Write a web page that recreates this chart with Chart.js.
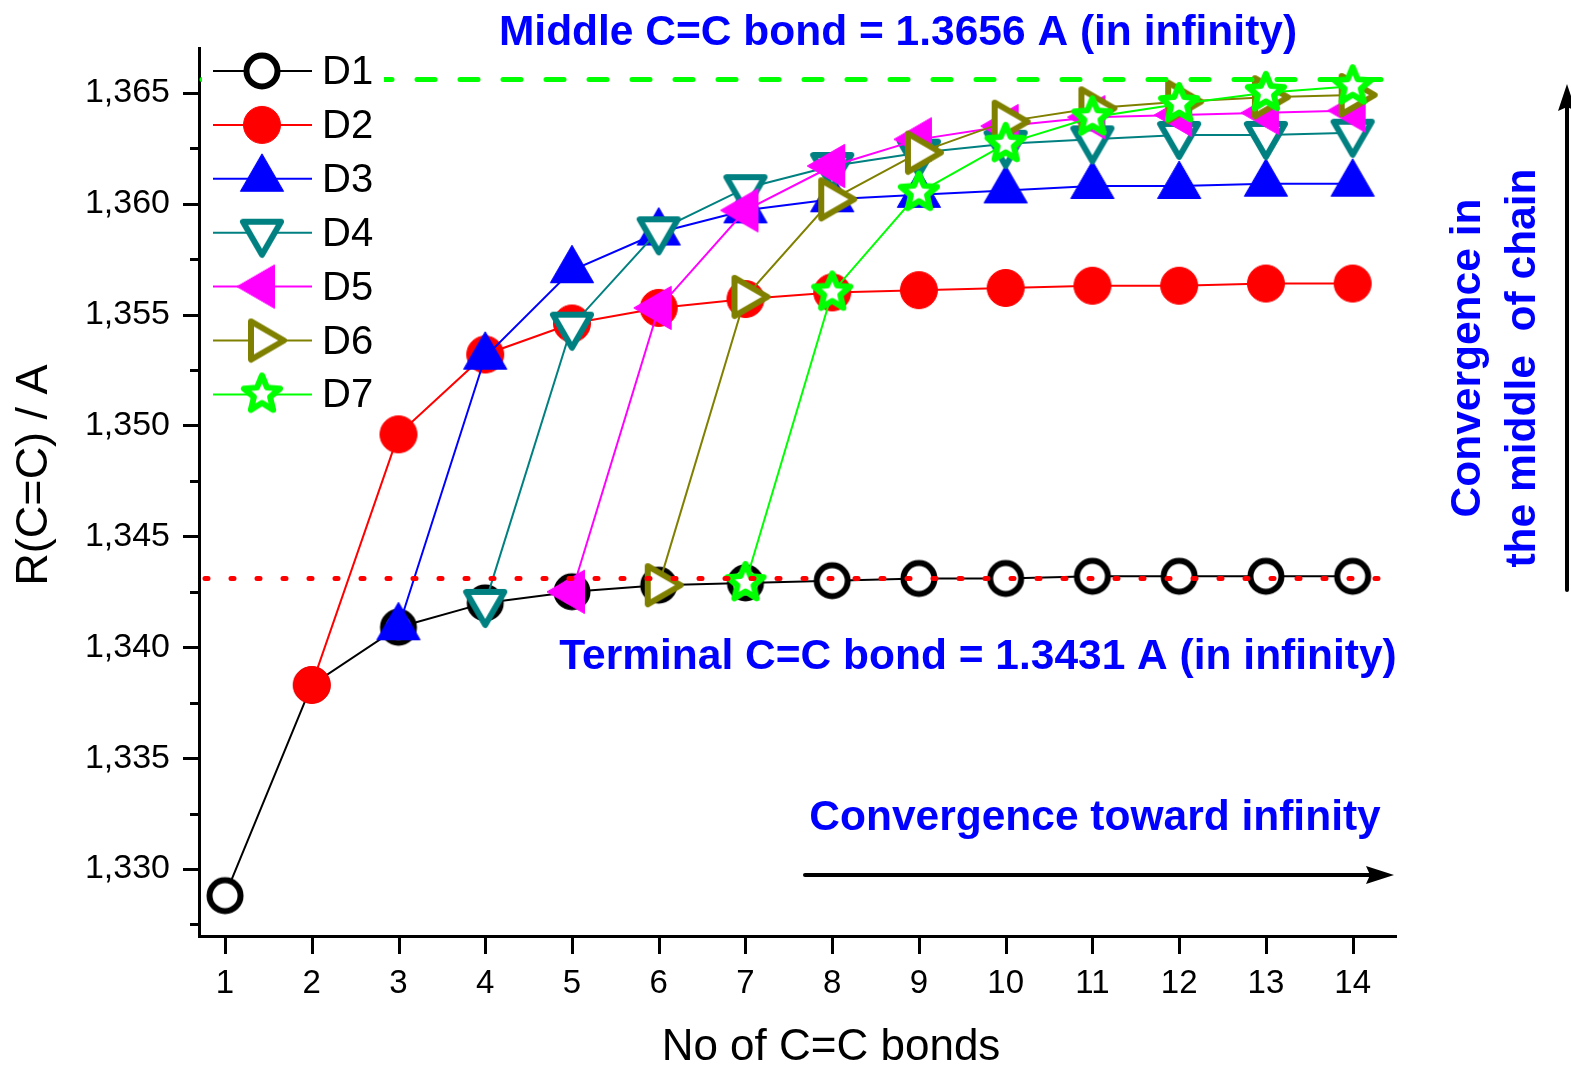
<!DOCTYPE html>
<html>
<head>
<meta charset="utf-8">
<title>C=C bond length convergence</title>
<script src="https://cdn.jsdelivr.net/npm/chart.js@4/dist/chart.umd.min.js"></script>
<style>
    html, body { margin: 0; padding: 0; background: #fff; }
    #bondChart { display: block; }
</style>
</head>
<body>
<canvas id="bondChart" width="1571" height="1067"></canvas>
<script>
// Number of C=C bonds in the chain (x axis)
const bondCount = [1, 2, 3, 4, 5, 6, 7, 8, 9, 10, 11, 12, 13, 14];

// R(C=C) in Angstrom for each position D1..D7 (null = bond not present yet)
const d1 = [1.3288, 1.3383, 1.3409, 1.3420, 1.3425, 1.3428, 1.3429, 1.3430, 1.3431, 1.3431, 1.3432, 1.3432, 1.3432, 1.3432];
const d2 = [null, 1.3383, 1.3496, 1.3532, 1.3546, 1.3553, 1.3557, 1.3560, 1.3561, 1.3562, 1.3563, 1.3563, 1.3564, 1.3564];
const d3 = [null, null, 1.3409, 1.3531, 1.3570, 1.3587, 1.3597, 1.3602, 1.3604, 1.3606, 1.3608, 1.3608, 1.3609, 1.3609];
const d4 = [null, null, null, 1.3420, 1.3545, 1.3588, 1.3607, 1.3617, 1.3623, 1.3627, 1.3629, 1.3631, 1.3631, 1.3632];
const d5 = [null, null, null, null, 1.3425, 1.3553, 1.3597, 1.3617, 1.3629, 1.3635, 1.3639, 1.3640, 1.3641, 1.3642];
const d6 = [null, null, null, null, null, 1.3428, 1.3558, 1.3602, 1.3623, 1.3637, 1.3643, 1.3646, 1.3648, 1.3649];
const d7 = [null, null, null, null, null, null, 1.3429, 1.3560, 1.3605, 1.3627, 1.3639, 1.3645, 1.3650, 1.3653];

const seriesNames = ["D1", "D2", "D3", "D4", "D5", "D6", "D7"];

// Limits for an infinite chain
const middleLimit = 1.3656;
const terminalLimit = 1.3431;

// Labelled y ticks (minor ticks sit halfway between them)
const yMajorTicks = [1.330, 1.335, 1.340, 1.345, 1.350, 1.355, 1.360, 1.365];

document.addEventListener("DOMContentLoaded", function () {
    const FONT = "'Liberation Sans', Arial, Helvetica, sans-serif";
    Chart.defaults.font.family = FONT;
    Chart.defaults.color = "#000";

    // Build a marker as a small canvas so the legend can reuse the exact same symbol
    function makeMarker(shape, color, filled) {
        const c = document.createElement("canvas");
        c.width = 60;
        c.height = 60;
        const g = c.getContext("2d");
        g.translate(30, 30);
        g.lineJoin = "round";
        g.beginPath();
        if (shape === "circle") {
            g.arc(0, 0, filled ? 18.5 : 15.5, 0, Math.PI * 2);
        } else if (shape === "star") {
            for (let k = 0; k < 10; k++) {
                const r = k % 2 === 0 ? 19 : 8.5;
                const a = -Math.PI / 2 + k * Math.PI / 5;
                g.lineTo(Math.cos(a) * r, Math.sin(a) * r);
            }
            g.closePath();
        } else {
            // triangles: shape gives the direction of the tip
            const tip = { up: -90, down: 90, left: 180, right: 0 }[shape] * Math.PI / 180;
            const r = filled ? 25 : 22;
            for (let k = 0; k < 3; k++) {
                const a = tip + k * Math.PI * 2 / 3;
                g.lineTo(Math.cos(a) * r, Math.sin(a) * r);
            }
            g.closePath();
        }
        if (filled) {
            g.fillStyle = color;
            g.fill();
            g.lineWidth = 1;
            g.strokeStyle = color;
            g.stroke();
        } else {
            g.fillStyle = "#fff";
            g.fill();
            g.lineWidth = 6;
            g.strokeStyle = color;
            g.stroke();
        }
        return c;
    }

    const seriesData = [d1, d2, d3, d4, d5, d6, d7];
    const seriesColors = ["#000000", "#ff0000", "#0000ff", "#008080", "#ff00ff", "#808000", "#00ff00"];
    const markers = [
        makeMarker("circle", seriesColors[0], false),
        makeMarker("circle", seriesColors[1], true),
        makeMarker("up", seriesColors[2], true),
        makeMarker("down", seriesColors[3], false),
        makeMarker("left", seriesColors[4], true),
        makeMarker("right", seriesColors[5], false),
        makeMarker("star", seriesColors[6], false)
    ];

    const datasets = seriesData.map(function (values, i) {
        return {
            label: seriesNames[i],
            data: bondCount
                .map((n, j) => ({ x: n, y: values[j] }))
                .filter(p => p.y !== null),
            borderColor: seriesColors[i],
            backgroundColor: seriesColors[i],
            borderWidth: 2,
            pointStyle: markers[i],
            pointRadius: 20,
            tension: 0,
            // later series are drawn on top
            order: seriesData.length - i
        };
    });

    // Reference lines, tick marks, axis titles, legend, arrows and notes
    const decorations = {
        id: "decorations",
        afterDraw(chart) {
            const ctx = chart.ctx;
            const xs = chart.scales.x;
            const ys = chart.scales.y;
            const area = chart.chartArea;
            ctx.save();

            // limit lines
            ctx.lineCap = "round";
            let py = ys.getPixelForValue(middleLimit);
            ctx.strokeStyle = "#00ff00";
            ctx.lineWidth = 5;
            ctx.setLineDash([18, 25]);
            ctx.beginPath();
            ctx.moveTo(area.left + 3, py);
            ctx.lineTo(area.right, py);
            ctx.stroke();

            py = ys.getPixelForValue(terminalLimit);
            ctx.strokeStyle = "#ff0000";
            ctx.lineWidth = 5;
            ctx.setLineDash([3, 23]);
            ctx.beginPath();
            ctx.moveTo(area.left + 6, py);
            ctx.lineTo(area.right - 8, py);
            ctx.stroke();
            ctx.setLineDash([]);

            // legend box in the upper left corner
            ctx.fillStyle = "#fff";
            ctx.fillRect(area.left + 3, area.top + 2, 182, 372);
            ctx.font = "40px " + FONT;
            ctx.textAlign = "left";
            ctx.textBaseline = "middle";
            ctx.lineCap = "butt";
            seriesNames.forEach(function (name, i) {
                const ly = 71 + i * 53.9;
                ctx.strokeStyle = seriesColors[i];
                ctx.lineWidth = 2;
                ctx.beginPath();
                ctx.moveTo(213, ly);
                ctx.lineTo(312, ly);
                ctx.stroke();
                ctx.drawImage(markers[i], 262 - 30, ly - 30);
                ctx.fillStyle = "#000";
                ctx.fillText(name, 322, ly + 2);
            });

            // tick marks
            ctx.strokeStyle = "#000";
            ctx.lineWidth = 3;
            for (let k = 13275; k <= 13650; k += 25) {
                const ty = Math.round(ys.getPixelForValue(k / 10000)) + 0.5;
                const len = k % 50 === 0 ? 16 : 9;
                ctx.beginPath();
                ctx.moveTo(area.left - len, ty);
                ctx.lineTo(area.left, ty);
                ctx.stroke();
            }
            bondCount.forEach(function (n) {
                const tx = Math.round(xs.getPixelForValue(n)) + 0.5;
                ctx.beginPath();
                ctx.moveTo(tx, area.bottom);
                ctx.lineTo(tx, area.bottom + 18);
                ctx.stroke();
            });

            // axis titles
            ctx.fillStyle = "#000";
            ctx.textAlign = "center";
            ctx.font = "44px " + FONT;
            ctx.fillText("No of C=C bonds", 831, 1048);
            ctx.save();
            ctx.translate(35, 475);
            ctx.rotate(-Math.PI / 2);
            ctx.font = "45px " + FONT;
            ctx.fillText("R(C=C) / A", 0, 0);
            ctx.restore();

            // notes
            ctx.fillStyle = "#0000ff";
            ctx.font = "bold 42.5px " + FONT;
            ctx.fillText("Middle C=C bond = 1.3656 A (in infinity)", 898, 33);
            ctx.fillText("Terminal C=C bond = 1.3431 A (in infinity)", 978, 657);
            ctx.fillText("Convergence toward infinity", 1095, 818);

            ctx.save();
            ctx.translate(1468, 358);
            ctx.rotate(-Math.PI / 2);
            ctx.fillText("Convergence in", 0, 0);
            ctx.restore();
            ctx.save();
            ctx.translate(1523, 368);
            ctx.rotate(-Math.PI / 2);
            ctx.fillText("the middle  of chain", 0, 0);
            ctx.restore();

            // arrows
            ctx.strokeStyle = "#000";
            ctx.fillStyle = "#000";
            ctx.lineWidth = 4;
            ctx.lineCap = "round";
            ctx.beginPath();
            ctx.moveTo(805, 875);
            ctx.lineTo(1372, 875);
            ctx.stroke();
            ctx.beginPath();
            ctx.moveTo(1394, 875);
            ctx.lineTo(1366, 866);
            ctx.lineTo(1370, 875);
            ctx.lineTo(1366, 884);
            ctx.closePath();
            ctx.fill();

            ctx.beginPath();
            ctx.moveTo(1567, 590);
            ctx.lineTo(1567, 104);
            ctx.stroke();
            ctx.beginPath();
            ctx.moveTo(1567, 84);
            ctx.lineTo(1558, 111);
            ctx.lineTo(1567, 107);
            ctx.lineTo(1576, 111);
            ctx.closePath();
            ctx.fill();

            ctx.restore();
        }
    };

    new Chart(document.getElementById("bondChart"), {
        type: "line",
        data: { datasets: datasets },
        plugins: [decorations],
        options: {
            responsive: false,
            animation: false,
            events: [],
            layout: { padding: { top: 48, right: 175, bottom: 0, left: 0 } },
            plugins: {
                legend: { display: false },
                tooltip: { enabled: false }
            },
            scales: {
                x: {
                    type: "linear",
                    min: 0.7,
                    max: 14.5,
                    afterFit(scale) {
                        scale.height = 131;
                        scale.paddingLeft = 0;
                        scale.paddingRight = 0;
                    },
                    grid: { display: false, drawTicks: false },
                    border: { display: true, color: "#000", width: 3 },
                    ticks: {
                        stepSize: 1,
                        includeBounds: false,
                        autoSkip: false,
                        maxRotation: 0,
                        padding: 28,
                        color: "#000",
                        font: { size: 33 },
                        callback: v => (Number.isInteger(v) ? String(v) : "")
                    },
                    title: { display: false }
                },
                y: {
                    min: 1.32698,
                    max: 1.36702,
                    afterFit(scale) {
                        scale.width = 199;
                        scale.paddingTop = 0;
                        scale.paddingBottom = 0;
                    },
                    grid: { display: false, drawTicks: false },
                    border: { display: true, color: "#000", width: 3 },
                    ticks: {
                        stepSize: 0.0025,
                        includeBounds: false,
                        autoSkip: false,
                        padding: 29,
                        color: "#000",
                        font: { size: 34 },
                        callback: function (v) {
                            const k = Math.round(v * 10000);
                            return yMajorTicks.some(t => Math.round(t * 10000) === k)
                                ? v.toFixed(3).replace(".", ",")
                                : "";
                        }
                    },
                    title: { display: false }
                }
            }
        }
    });
});
</script>
</body>
</html>
